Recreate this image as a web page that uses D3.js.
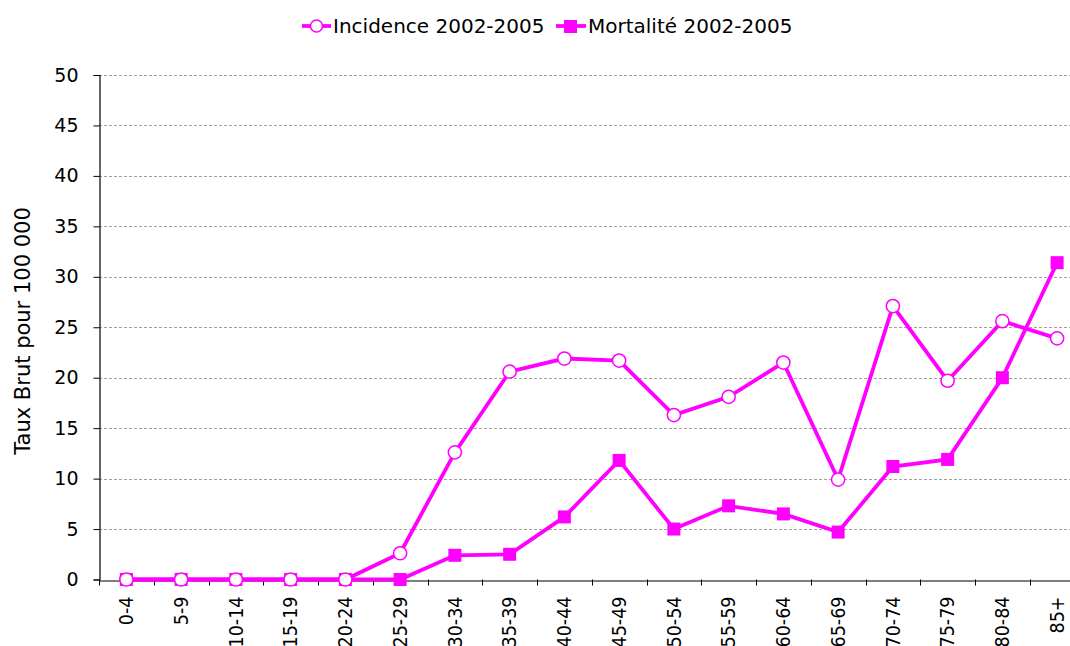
<!DOCTYPE html>
<html><head><meta charset="utf-8">
<script src="https://cdn.jsdelivr.net/npm/d3@7"></script>
<style>
html,body{margin:0;padding:0;background:#fff;overflow:hidden}
text{font-family:"DejaVu Sans",sans-serif;fill:#000}
</style></head>
<body>
<svg id="chart" width="1070" height="646"></svg>
<script>
const categories = ["0-4","5-9","10-14","15-19","20-24","25-29","30-34","35-39","40-44","45-49","50-54","55-59","60-64","65-69","70-74","75-79","80-84","85+"];
const incidence = [0,0,0,0,0,2.6,12.6,20.6,21.9,21.7,16.3,18.1,21.5,9.9,27.1,19.7,25.6,23.9];
const mortalite = [0,0,0,0,0,0,2.4,2.5,6.2,11.8,5.0,7.3,6.5,4.7,11.2,11.9,20.0,31.4];
const yTicks = [0,5,10,15,20,25,30,35,40,45,50];
const seriesNames = ["Incidence 2002-2005","Mortalité 2002-2005"];
const yTitle = "Taux Brut pour 100 000";

const color = "#ff00ff";
const svg = d3.select("#chart");
const x = d3.scaleBand().domain(categories).range([99, 1084.5]);
const y = d3.scaleLinear().domain([0,50]).range([579.5, 75]);

// gridlines
svg.append("g").selectAll("line").data(yTicks.filter(d=>d>0)).join("line")
  .attr("x1", 99).attr("x2", 1070)
  .attr("y1", d=>Math.round(y(d))+0.5).attr("y2", d=>Math.round(y(d))+0.5)
  .attr("stroke", "#a0a0a0").attr("stroke-width", 1).attr("stroke-dasharray", "3,2");

// y axis
const yAxis = svg.append("g").attr("transform","translate(99.5,0)")
  .call(d3.axisLeft(y).tickValues(yTicks).tickSize(6).tickPadding(15).tickFormat(d3.format("d")));
yAxis.select(".domain").attr("stroke","#000").attr("stroke-width",1.2);
yAxis.selectAll(".tick line").attr("stroke","#000");
yAxis.selectAll("text").style("font-size","19px").attr("fill","#000");

// x axis
const xAxis = svg.append("g").attr("transform",`translate(0,${Math.round(y(0))+0.5})`)
  .call(d3.axisBottom(x).tickSize(0).tickPadding(0));
xAxis.select(".domain").attr("stroke","#555").attr("stroke-width",1.5);
xAxis.selectAll(".tick text")
  .style("font-family","'DejaVu Sans Condensed','DejaVu Sans',sans-serif")
  .style("font-size","19.5px").attr("fill","#000")
  .attr("text-anchor","end").attr("dy","0.35em")
  .attr("transform","translate(0,16) rotate(-90)");
// tick marks at band boundaries
svg.append("g").selectAll("line").data(categories).join("line")
  .attr("x1", d=>Math.round(x(d))+0.5).attr("x2", d=>Math.round(x(d))+0.5)
  .attr("y1", y(0)).attr("y2", y(0)+6)
  .attr("stroke","#000").attr("stroke-width",1);

const cx = d=>x(d)+x.bandwidth()/2;
const line = d3.line().x((d,i)=>cx(categories[i])).y(d=>y(d));

// mortalité
svg.append("path").datum(mortalite).attr("d", line)
  .attr("fill","none").attr("stroke",color).attr("stroke-width",3.8);
svg.append("g").selectAll("rect").data(mortalite).join("rect")
  .attr("x",(d,i)=>cx(categories[i])-6.5).attr("y",d=>y(d)-6.5)
  .attr("width",13).attr("height",13).attr("fill",color);

// incidence
svg.append("path").datum(incidence).attr("d", line)
  .attr("fill","none").attr("stroke",color).attr("stroke-width",3.8);
svg.append("g").selectAll("circle").data(incidence).join("circle")
  .attr("cx",(d,i)=>cx(categories[i])).attr("cy",d=>y(d)).attr("r",6.6)
  .attr("fill","#fff").attr("stroke",color).attr("stroke-width",1.5);

// y title
svg.append("text").attr("transform","translate(30,331) rotate(-90)")
  .attr("text-anchor","middle").style("font-size","21px").text(yTitle);

// legend
const lg = svg.append("g");
lg.append("line").attr("x1",302).attr("x2",331).attr("y1",26).attr("y2",26).attr("stroke",color).attr("stroke-width",3.8);
lg.append("circle").attr("cx",316.5).attr("cy",26).attr("r",6).attr("fill","#fff").attr("stroke",color).attr("stroke-width",1.5);
lg.append("text").attr("x",333).attr("y",26).attr("dy","0.35em").style("font-size","20px").text(seriesNames[0]);
lg.append("line").attr("x1",556).attr("x2",586).attr("y1",26).attr("y2",26).attr("stroke",color).attr("stroke-width",3.8);
lg.append("rect").attr("x",564).attr("y",20).attr("width",13).attr("height",13).attr("fill",color);
lg.append("text").attr("x",588).attr("y",26).attr("dy","0.35em").style("font-size","20px").text(seriesNames[1]);
</script>
</body></html>
